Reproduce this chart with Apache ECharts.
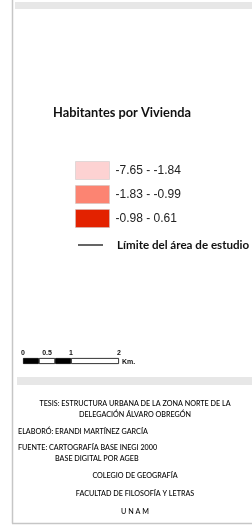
<!DOCTYPE html>
<html><head><meta charset="utf-8">
<script src="https://cdn.jsdelivr.net/npm/echarts@6/dist/echarts.min.js"></script>
<style>html,body{margin:0;padding:0;background:#fff}#c{width:252px;height:525px}</style>
</head><body><div id="c"></div>
<script>
var legendTitle = 'Habitantes por Vivienda';
var classes = ['-7.65 - -1.84', '-1.83 - -0.99', '-0.98 - 0.61'];
var classColors = ['#fdd2d2', '#fc8472', '#e32200'];
var boundaryName = 'Límite del área de estudio';
var scaleTicks = [0, 0.5, 1, 2];
var scaleSegments = [0.33, 0.34, 0.33, 1];
var scaleColors = ['#000', '#fff', '#000', '#fff'];
var scaleUnit = 'Km.';
var creditLines = [
  {text: 'TESIS: ESTRUCTURA URBANA DE LA ZONA NORTE DE LA', align: 'center', y: 404},
  {text: 'DELEGACIÓN ÁLVARO OBREGÓN', align: 'center', y: 415},
  {text: 'ELABORÓ: ERANDI MARTÍNEZ GARCÍA', align: 'left', x: 18, y: 432},
  {text: 'FUENTE: CARTOGRAFÍA BASE INEGI 2000', align: 'left', x: 18, y: 448},
  {text: 'BASE DIGITAL POR AGEB', align: 'left', x: 55, y: 459},
  {text: 'COLEGIO DE GEOGRAFÍA', align: 'center', y: 476},
  {text: 'FACULTAD DE FILOSOFÍA Y LETRAS', align: 'center', y: 494},
  {text: 'U N A M', align: 'center', y: 512}
];

var chart = echarts.init(document.getElementById('c'), null, {renderer: 'canvas'});
var serif = 'Lato';

var graphics = [
  {type: 'rect', shape: {x: 15, y: 2, width: 237, height: 7}, style: {fill: '#e7e7e7'}, silent: true},
  {type: 'rect', shape: {x: 17, y: 377, width: 235, height: 8}, style: {fill: '#e7e7e7'}, silent: true},
  {type: 'line', shape: {x1: 12.5, y1: 0, x2: 12.5, y2: 523.5}, style: {stroke: '#c6c6c6', lineWidth: 1.5}, silent: true},
  {type: 'line', shape: {x1: 12, y1: 523.5, x2: 252, y2: 523.5}, style: {stroke: '#c6c6c6', lineWidth: 1.5}, silent: true},
  {type: 'text', x: 122, y: 362, style: {text: scaleUnit, font: 'bold 7px "Liberation Sans"', fill: '#111', textVerticalAlign: 'middle'}, silent: true}
];
creditLines.forEach(function (l) {
  graphics.push({
    type: 'text',
    x: l.align === 'center' ? 135 : l.x,
    y: l.y,
    style: {text: l.text, font: '500 7.2px ' + serif, fill: '#000', textAlign: l.align, textVerticalAlign: 'middle'},
    silent: true
  });
});

var series = classes.map(function (c, i) {
  return {name: c, type: 'bar', xAxisIndex: 0, yAxisIndex: 0, data: [], itemStyle: {color: classColors[i]}};
});
series.push({name: boundaryName, type: 'line', xAxisIndex: 0, yAxisIndex: 0, data: [], symbol: 'none', lineStyle: {color: '#000', width: 1}, itemStyle: {color: '#000'}});
scaleSegments.forEach(function (v, i) {
  series.push({
    type: 'bar', stack: 'scale', xAxisIndex: 1, yAxisIndex: 1, barWidth: 6, silent: true,
    data: [v], itemStyle: {color: scaleColors[i], borderColor: '#000', borderWidth: 0.8}
  });
});

chart.setOption({
  animation: false,
  title: {text: legendTitle, left: 122, textAlign: 'center', top: 106, padding: 0,
    textStyle: {fontFamily: serif, fontWeight: 'bold', fontSize: 12.8, color: '#111'}},
  legend: [
    {data: classes, orient: 'vertical', left: 75, top: 161, padding: 0, itemWidth: 34, itemHeight: 18, itemGap: 5,
      icon: 'rect', selectedMode: false,
      itemStyle: {borderColor: 'rgba(200,200,200,0.5)', borderWidth: 1},
      textStyle: {fontFamily: 'Liberation Sans', fontSize: 12, color: '#222', padding: [0, 0, 0, 1]}},
    {data: [{name: boundaryName, icon: 'rect', itemStyle: {color: '#111'}}], left: 78, top: 239, padding: 0, itemWidth: 25, itemHeight: 1.3,
      selectedMode: false,
      textStyle: {fontFamily: serif, fontWeight: 'bold', fontSize: 11.6, color: '#111', padding: [0, 0, 0, 9]}}
  ],
  grid: [
    {left: 400, top: 0, width: 10, height: 10},
    {left: 23, top: 358, width: 96, height: 6}
  ],
  xAxis: [
    {gridIndex: 0, show: false},
    {gridIndex: 1, type: 'value', min: 0, max: 2, position: 'top',
      axisLine: {show: false}, axisTick: {show: false}, splitLine: {show: false},
      axisLabel: {customValues: scaleTicks, fontFamily: 'Liberation Sans', fontWeight: 'bold', fontSize: 7, color: '#111', margin: 1.5,
        formatter: function (v) { return String(v); }}}
  ],
  yAxis: [
    {gridIndex: 0, show: false},
    {gridIndex: 1, type: 'category', data: ['s'], show: false}
  ],
  graphic: graphics,
  series: series
});
</script></body></html>
